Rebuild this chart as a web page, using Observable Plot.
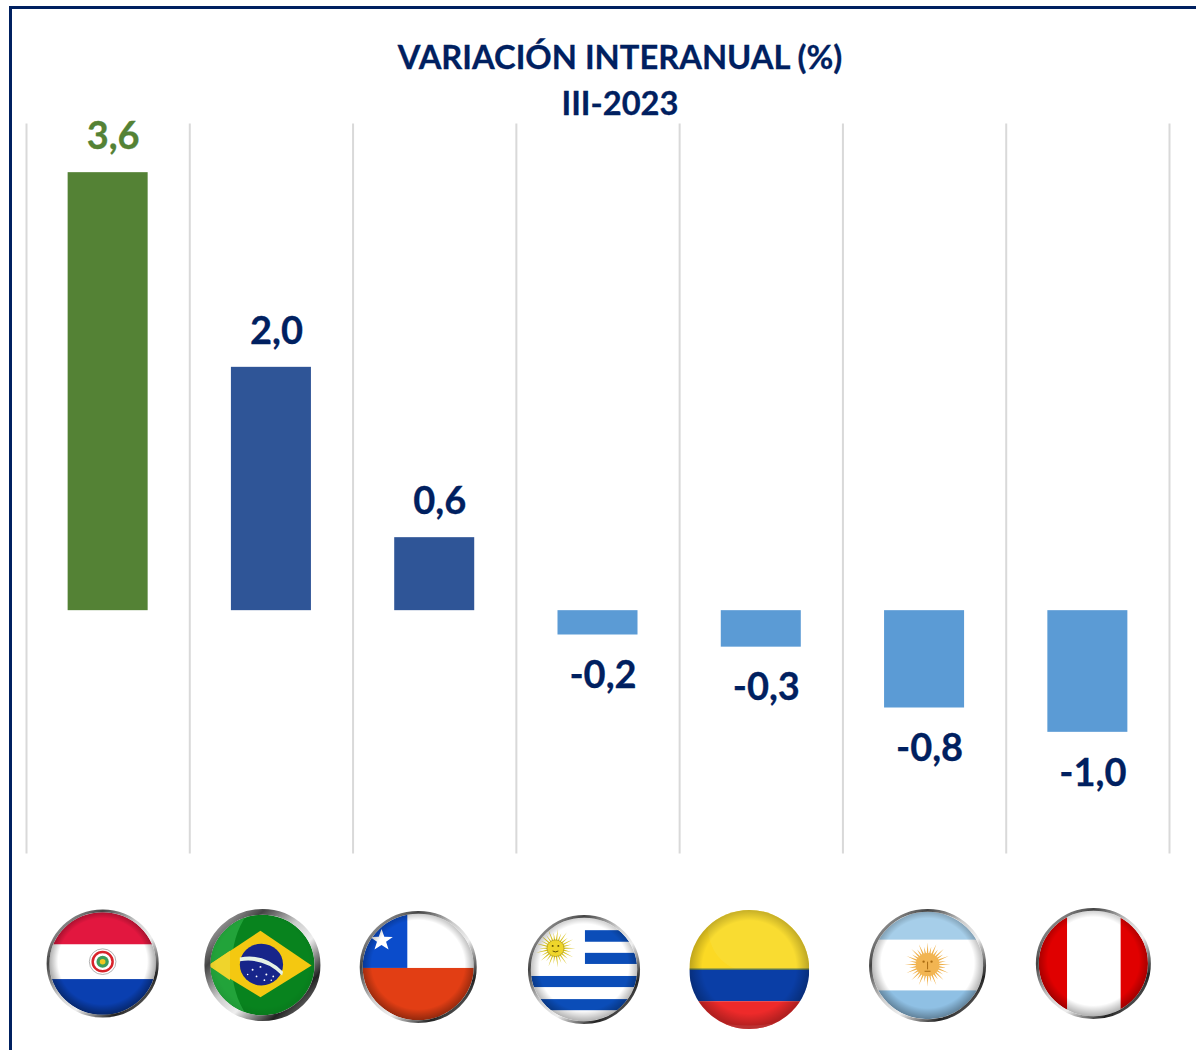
<!DOCTYPE html>
<html lang="es">
<head>
<meta charset="utf-8">
<title>Variación interanual</title>
<script src="https://cdn.jsdelivr.net/npm/d3@7"></script>
<script src="https://cdn.jsdelivr.net/npm/@observablehq/plot@0.6"></script>
<style>
  html, body { margin: 0; padding: 0; background: #fff; overflow: hidden; }
  #page { position: relative; width: 1196px; height: 1050px; }
  #frame { position: absolute; left: 9px; top: 6px; right: 0; bottom: 0; border-top: 3px solid #002060; border-left: 3px solid #002060; pointer-events: none; }
  #title { position: absolute; left: 44px; right: 0; top: 34px; text-align: center; color: #002060;
           font: 700 32.7px/45.5px Lato, sans-serif; -webkit-text-stroke: 0.3px #002060; }
  svg { display: block; }
</style>
</head>
<body>
<div id="page">
  <div id="chart"></div>
  <div id="frame"></div>
  <div id="title">VARIACIÓN INTERANUAL (%)<br>III-2023</div>
</div>
<script>
const countries = ["Paraguay", "Brasil", "Chile", "Uruguay", "Colombia", "Argentina", "Perú"];
const values = [3.6, 2.0, 0.6, -0.2, -0.3, -0.8, -1.0];
const valueLabels = ["3,6", "2,0", "0,6", "-0,2", "-0,3", "-0,8", "-1,0"];
const barColors = ["#548235", "#2F5597", "#2F5597", "#5B9BD5", "#5B9BD5", "#5B9BD5", "#5B9BD5"];
const labelColors = ["#548235", "#002060", "#002060", "#002060", "#002060", "#002060", "#002060"];

// --- flag pictograms (120×120 artwork, clipped to a disc) ---
function rays(cx, cy, r1, r2, n, fill) {
  let s = "";
  for (let i = 0; i < n; i++) {
    const a = i * 2 * Math.PI / n, w = Math.PI / n * 0.8, R = i % 2 ? r2 * 0.82 : r2;
    s += `<path d="M${cx + r1 * Math.cos(a - w)} ${cy + r1 * Math.sin(a - w)}L${cx + R * Math.cos(a)} ${cy + R * Math.sin(a)}L${cx + r1 * Math.cos(a + w)} ${cy + r1 * Math.sin(a + w)}Z" fill="${fill}"/>`;
  }
  return s;
}
function star(cx, cy, R, fill) {
  let p = [];
  for (let i = 0; i < 10; i++) {
    const a = -Math.PI / 2 + i * Math.PI / 5, r = i % 2 ? R * 0.4 : R;
    p.push((cx + r * Math.cos(a)).toFixed(1) + "," + (cy + r * Math.sin(a)).toFixed(1));
  }
  return `<polygon points="${p.join(" ")}" fill="${fill}"/>`;
}
function flag(art, ring = 3, vignette = 0.45) {
  const r = 59 - ring / 2;
  const edge = ring
    ? `<circle cx="60" cy="60" r="${r}" fill="none" stroke="url(#chrome)" stroke-width="${ring}"/>`
    : "";
  const svg = `<svg xmlns="http://www.w3.org/2000/svg" viewBox="0 0 120 120" preserveAspectRatio="none">
  <defs>
    <linearGradient id="chrome" x1="0" y1="0" x2="1" y2="1">
      <stop offset="0" stop-color="#d8d8d8"/><stop offset=".25" stop-color="#444"/><stop offset=".45" stop-color="#ccc"/>
      <stop offset=".6" stop-color="#eee"/><stop offset=".8" stop-color="#222"/><stop offset="1" stop-color="#aaa"/>
    </linearGradient>
    <radialGradient id="vig" cx=".5" cy=".48" r=".5">
      <stop offset=".78" stop-color="#000" stop-opacity="0"/><stop offset="1" stop-color="#000" stop-opacity="${vignette}"/>
    </radialGradient>
    <clipPath id="disc"><circle cx="60" cy="60" r="${ring ? 59 - ring : 60}"/></clipPath>
  </defs>
  <g clip-path="url(#disc)">${art}<rect width="120" height="120" fill="url(#vig)"/></g>${edge}</svg>`;
  return "data:image/svg+xml," + encodeURIComponent(svg);
}
const flagSrc = [
  // Paraguay
  flag(`<rect width="120" height="120" fill="#fff"/><rect width="120" height="39" fill="#E2173F"/><rect y="77" width="120" height="43" fill="#0A3FB0"/>
    <circle cx="60" cy="58" r="14" fill="#fff" stroke="#999" stroke-width=".8"/><circle cx="60" cy="58" r="10.5" fill="none" stroke="#D8232A" stroke-width="2.6"/><circle cx="60" cy="58" r="6.5" fill="#3d9c5a"/><circle cx="60" cy="58" r="3" fill="#f2c81e"/>`),
  // Brasil
  flag(`<rect width="120" height="120" fill="#08831E"/><path d="M0 0H50C22 30 22 90 50 120H0Z" fill="#22A33A"/>
    <polygon points="58,24 110,60.5 58,94 5,60.5" fill="#F4C811"/><path d="M5 60.5L27 45V76Z" fill="#EFD42C"/>
    <circle cx="59" cy="59.5" r="22" fill="#17258A"/><path d="M37 52Q62 47 81 67L80 71Q62 52 37 56Z" fill="#E6F2E6"/>
    <g fill="#fff"><circle cx="50" cy="65" r="1"/><circle cx="58" cy="62" r="1"/><circle cx="64" cy="70" r="1"/><circle cx="71" cy="72" r=".9"/><circle cx="54" cy="72" r=".9"/><circle cx="62" cy="76" r=".9"/><circle cx="69" cy="76" r=".8"/><circle cx="45" cy="70" r=".8"/></g>`, 6, 0.1),
  // Chile
  flag(`<rect width="120" height="61" fill="#fff"/><rect width="49" height="61" fill="#0B4CCB"/><rect y="61" width="120" height="59" fill="#E23E14"/>${star(23, 32, 12, "#fff")}`, 3, 0.4),
  // Uruguay
  flag(`<rect width="120" height="120" fill="#fff"/><g fill="#0B4DB8"><rect x="61" y="17.5" width="59" height="12.5"/><rect x="61" y="42" width="59" height="12"/><rect y="67" width="120" height="12"/><rect y="92" width="120" height="12"/></g>
    ${rays(30, 37, 8, 21, 26, "#D8C21E")}<circle cx="30" cy="37" r="9" fill="#EFD62B"/><circle cx="30" cy="37" r="9" fill="none" stroke="#8a7a10" stroke-width=".5"/><path d="M27 40Q30 42 33 40" stroke="#5a4a00" fill="none"/><circle cx="27" cy="34.5" r="1" fill="#5a4a00"/><circle cx="33" cy="34.5" r="1" fill="#5a4a00"/>`, 3, 0.35),
  // Colombia
  flag(`<rect width="120" height="60" fill="#FBD924"/><path d="M20 0H120V60H48C20 50 15 20 20 0Z" fill="#F9DD3A" opacity=".6"/><rect width="120" height="1.5" y="59" fill="#5d7a58"/><rect y="60.5" width="120" height="31.5" fill="#0A3EA6"/><rect y="92" width="120" height="28" fill="#EE2A2A"/><path d="M0 105Q60 128 120 105V120H0Z" fill="#FF5A5A" opacity=".5"/>`, 0, 0.25),
  // Argentina
  flag(`<rect width="120" height="120" fill="#fff"/><rect width="120" height="33" fill="#A6CEE9"/><rect y="86" width="120" height="34" fill="#8FC0E4"/>${rays(60, 59, 11, 23, 32, "#EFB04A")}<circle cx="60" cy="59" r="12" fill="#F2B552"/><circle cx="56" cy="56" r="1.2" fill="#a86a10"/><circle cx="64" cy="56" r="1.2" fill="#a86a10"/><path d="M60 56V64M57 66H63" stroke="#a86a10" stroke-width="1"/>`, 3, 0.38),
  // Perú
  flag(`<rect width="120" height="120" fill="#fff"/><rect width="33" height="120" fill="#E00000"/><rect x="88" width="32" height="120" fill="#E00000"/>`, 3, 0.35)
];
// flag placement below the plot frame
const flagOffsets = [
  {dx: -5.5, dy: 109.5, w: 114, h: 110},
  {dx: -9, dy: 111, w: 118, h: 114},
  {dx: -16.5, dy: 113, w: 119, h: 114},
  {dx: -14, dy: 115.5, w: 114, h: 111},
  {dx: -12, dy: 115.5, w: 120, h: 119},
  {dx: 3, dy: 111.5, w: 119, h: 115},
  {dx: 5.5, dy: 109.5, w: 117, h: 113}
];

const rows = countries.map((country, i) => ({
  country, value: values[i], label: valueLabels[i], bar: barColors[i], ink: labelColors[i], src: flagSrc[i]
}));
const step = (1170 - 27) / countries.length;

const labelMark = (data, dy) => Plot.text(data, {
  x: "country", y: "value", text: "label", fill: "ink", stroke: "ink", strokeWidth: 0.3, dx: 5, dy,
  fontFamily: "Lato, sans-serif", fontWeight: 700, fontSize: 38, textAnchor: "middle", lineAnchor: "middle"
});

const chart = Plot.plot({
  width: 1196,
  height: 1050,
  marginLeft: 26,
  marginRight: 27,
  marginTop: 123.5,
  marginBottom: 196.5,
  x: {type: "band", domain: countries, paddingInner: 0.51, paddingOuter: 0.255, round: false, axis: null},
  y: {domain: [-2, 4], axis: null},
  marks: [
    Plot.ruleX(rows, {x: "country", dx: -step / 2, stroke: "#D9D9D9", strokeWidth: 2}),
    Plot.ruleX(rows.slice(-1), {x: "country", dx: step / 2, stroke: "#D9D9D9", strokeWidth: 2}),
    Plot.barY(rows, {x: "country", y: "value", fill: "bar"}),
    labelMark(rows.filter(d => d.value >= 0), -35.5),
    labelMark(rows.filter(d => d.value < 0), 41),
    ...rows.map((d, i) => Plot.image([d], {
      x: "country", y: () => -2, src: "src",
      dx: flagOffsets[i].dx, dy: flagOffsets[i].dy,
      width: flagOffsets[i].w, height: flagOffsets[i].h,
      preserveAspectRatio: "none"
    }))
  ]
});
document.getElementById("chart").appendChild(chart);
</script>
</body>
</html>
